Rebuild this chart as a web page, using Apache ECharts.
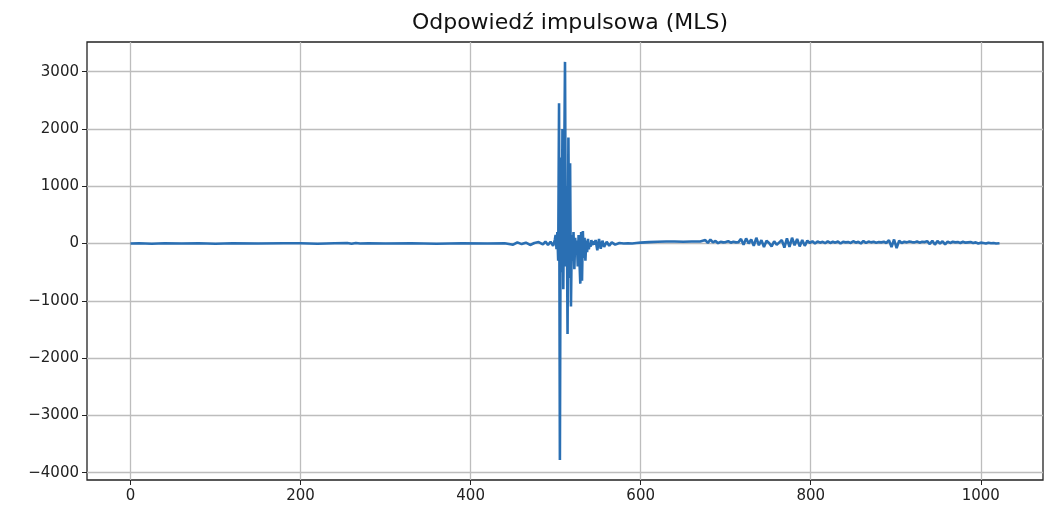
<!DOCTYPE html>
<html>
<head>
<meta charset="utf-8">
<script src="https://cdn.jsdelivr.net/npm/echarts@6/dist/echarts.min.js"></script>
<style>html,body{margin:0;padding:0;background:#fff}#c{width:1046px;height:510px}</style>
</head>
<body>
<div id="c"></div>
<script>
const chartTitle = 'Odpowiedź impulsowa (MLS)';
const xTicks = [0, 200, 400, 600, 800, 1000];
const yTicks = [-4000, -3000, -2000, -1000, 0, 1000, 2000, 3000];
// [sample index, amplitude]
const impulse = [
  [0,0],[10,5],[25,-5],[40,5],[60,0],[80,5],[100,-5],[120,5],[150,0],[180,5],[200,5],[220,-5],[240,5],[255,10],[260,-5],[265,10],[270,0],[280,5],[300,0],[330,5],[360,-5],[390,5],[420,0],[440,5],
  [450,-20],[455,20],[460,-10],[465,15],[470,-25],[475,10],[480,25],[485,-15],[488,35],[491,-25],[494,30],[497,-40],[499,60],
  [500,150],[501,-100],[502,200],[503,-300],[504,2450],[505,-3780],[506,1500],[507,-500],[508,2000],[509,-800],
  [510,1200],[511,3170],[512,-400],[513,1000],[514,-1580],[515,1850],[516,-600],[517,1400],[518,-1100],[519,150],
  [520,-300],[521,200],[522,-450],[523,100],[524,-200],[525,50],[526,-400],[527,150],[528,-300],[529,-700],
  [530,200],[531,-650],[532,220],[533,-250],[534,100],[535,-300],[536,50],[537,-150],[538,80],[539,-100],
  [540,0],[541,-60],[542,60],[543,-30],[544,40],[545,-20],
  [547,60],[549,-120],[551,80],[553,-90],[555,50],[557,-60],[560,30],[563,-40],[566,20],[570,-20],[575,10],[580,0],[585,5],[590,0],[595,10],
  [600,15],[610,25],[620,30],[630,35],[640,35],[650,30],[660,35],[670,35],
  [676,60],[679,10],[682,70],[685,20],[688,45],[691,5],[694,30],[697,20],[700,25],[703,40],[706,15],[709,30],[712,20],[715,25],
  [718,80],[721,-20],[724,90],[727,0],[730,70],[733,-40],[736,100],[739,-30],[742,60],[745,-60],[748,50],[751,10],[754,-50],[757,40],
  [760,-20],[763,20],[766,60],[769,-70],[772,90],[775,-60],[778,100],[781,-30],[784,80],[787,-50],[790,60],[793,-40],[796,50],[799,10],
  [802,40],[805,0],[808,35],[811,15],[814,30],[817,5],[820,40],[823,10],[826,30],[829,15],[832,35],[835,0],[838,30],[841,20],[844,25],
  [847,10],[850,40],[853,15],[856,30],[859,0],[862,45],[865,10],[868,35],[871,20],[874,30],[877,15],[880,25],[883,20],[886,30],[889,10],
  [892,60],[895,-60],[898,70],[901,-80],[904,50],[907,10],[910,30],[913,20],[916,35],[919,25],[922,20],[925,35],[928,15],[931,30],[934,25],
  [937,40],[940,-10],[943,50],[946,-20],[949,45],[952,0],[955,40],[958,-15],[961,35],[964,10],[967,30],[970,20],[973,25],[976,10],[979,30],
  [982,15],[985,20],[988,25],[991,10],[994,20],[997,0],[1000,15],[1003,10],[1006,0],[1009,15],[1012,5],[1015,10],[1018,0],[1022,5]
];

const fmt = v => (v < 0 ? '\u2212' + Math.abs(v) : String(v));
const chart = echarts.init(document.getElementById('c'), null, {renderer: 'canvas'});
const font = 'DejaVu Sans';
chart.setOption({
  animation: false,
  backgroundColor: '#fff',
  title: {
    text: chartTitle,
    left: 565, top: 7, textAlign: 'center',
    textStyle: {fontFamily: font, fontSize: 22, fontWeight: 'normal', color: '#111'}
  },
  grid: {left: 87, right: 3, top: 42, bottom: 30, show: true, borderColor: '#222', borderWidth: 1.3, backgroundColor: 'transparent'},
  xAxis: {
    type: 'value', min: -51.15, max: 1073.15,
    axisLine: {show: false, onZero: false},
    axisTick: {show: true, length: 5, lineStyle: {color: '#222'}, customValues: xTicks},
    axisLabel: {fontFamily: font, fontSize: 15, color: '#222', margin: 9, customValues: xTicks, formatter: fmt},
    splitLine: {show: true, lineStyle: {color: '#bdbdbd', width: 1.3}}
  },
  yAxis: {
    type: 'value', min: -4127, max: 3517,
    axisLine: {show: false, onZero: false},
    axisTick: {show: true, length: 5, lineStyle: {color: '#222'}, customValues: yTicks},
    axisLabel: {fontFamily: font, fontSize: 15, color: '#222', margin: 8, customValues: yTicks, formatter: fmt},
    splitLine: {show: true, lineStyle: {color: '#bdbdbd', width: 1.3}}
  },
  series: [{
    type: 'line', data: impulse, showSymbol: false, symbol: 'none',
    lineStyle: {color: '#2a6fb3', width: 2.6}, z: 3
  }]
});
</script>
</body>
</html>
